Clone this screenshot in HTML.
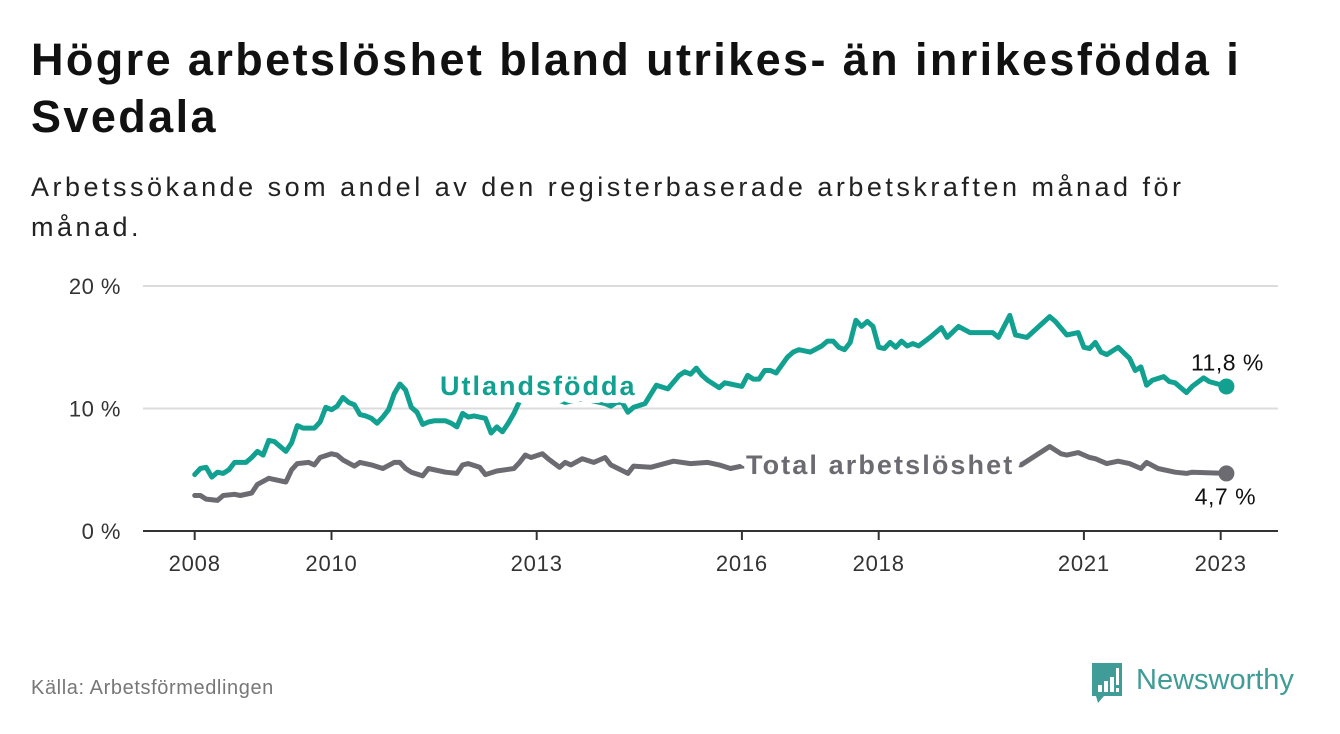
<!DOCTYPE html>
<html><head><meta charset="utf-8"><style>
body{margin:0;width:1340px;height:734px;background:#fff;font-family:"Liberation Sans","DejaVu Sans",sans-serif;overflow:hidden;position:relative}
.t{position:absolute;left:31px;top:31px;font-size:45px;letter-spacing:2.4px;font-weight:bold;color:#111;line-height:57px;width:1300px;white-space:nowrap}
.s{position:absolute;left:31px;top:167px;font-size:27px;letter-spacing:3.5px;color:#222;line-height:40px;width:1300px;white-space:nowrap}
.src{position:absolute;left:31px;top:677px;font-size:20px;letter-spacing:0.6px;color:#777}
</style></head><body>
<div class="t">Högre arbetslöshet bland utrikes- än inrikesfödda i<br>Svedala</div>
<div class="s">Arbetssökande som andel av den registerbaserade arbetskraften månad för<br>månad.</div>
<div class="src">Källa: Arbetsförmedlingen</div>
<svg style="position:absolute;left:1088px;top:660px" width="230" height="48">
<path d="M4 3 H34 V36 H16 L10 43 L8 36 H4 Z" fill="#3f9c96"/>
<rect x="10" y="25" width="4" height="7" fill="#fff"/><rect x="16" y="21" width="4" height="11" fill="#fff"/><rect x="22" y="17" width="4" height="15" fill="#fff"/><rect x="28" y="8" width="3" height="17" fill="#fff"/><rect x="28" y="28" width="3" height="4" fill="#fff"/>
<text x="48" y="29" font-size="29" font-family="Liberation Sans, sans-serif" fill="#3f9c96">Newsworthy</text>
</svg>
<svg id="chart" width="1340" height="734" style="position:absolute;left:0;top:0"></svg>
<script>
const yTicks=[0,10,20];
const yTickLabels=["0 %","10 %","20 %"];
const xTickYears=[2008,2010,2013,2016,2018,2021,2023];
const foreignMonths=[0,1,2,3,4,5,6,7,9,10,11,12,13,14,16,17,18,19,21,22,23,24,25,26,27,28,29,30,31,32,33,34,35,36,37,38,39,40,41,42,44,45,46,47,48,49,51,52,53,54,55,56,57,60,63,65,68,70,72,73,74,75,76,77,79,81,83,85,86,87,88,89,90,92,93,94,96,97,98,99,100,101,102,104,105,106,108,110,111,112,113,114,115,116,117,118,119,120,121,122,123,124,125,126,127,129,131,132,134,136,140,141,143,144,146,150,151,153,155,156,157,158,159,160,162,164,165,166,167,168,170,171,172,174,175,177,178,181];
const foreignValues=[4.6,5.1,5.2,4.4,4.8,4.7,5.0,5.6,5.6,6.0,6.5,6.2,7.4,7.3,6.5,7.2,8.6,8.4,8.4,8.9,10.1,9.9,10.2,10.9,10.5,10.3,9.5,9.4,9.2,8.8,9.3,9.9,11.2,12.0,11.5,10.1,9.7,8.7,8.9,9.0,9.0,8.8,8.5,9.6,9.3,9.4,9.2,8.0,8.5,8.1,8.8,9.6,10.6,10.9,10.8,10.5,10.8,10.6,10.4,10.2,10.5,10.5,9.7,10.1,10.4,11.9,11.6,12.7,13.0,12.8,13.3,12.7,12.3,11.7,12.1,12.0,11.8,12.7,12.4,12.4,13.1,13.1,12.9,14.2,14.6,14.8,14.6,15.1,15.5,15.5,15.0,14.8,15.4,17.2,16.7,17.1,16.7,15.0,14.9,15.4,15.0,15.5,15.1,15.3,15.1,15.8,16.6,15.8,16.7,16.2,16.2,15.8,17.6,16.0,15.8,17.5,17.1,16.0,16.2,15.0,14.9,15.4,14.6,14.4,15.0,14.1,13.1,13.4,11.9,12.3,12.6,12.2,12.1,11.3,11.8,12.5,12.2,11.8];
const totalMonths=[0,1,2,4,5,7,8,10,11,13,14,16,17,18,20,21,22,24,25,26,28,29,31,33,35,36,37,38,40,41,44,46,47,48,50,51,53,56,57,58,59,61,62,64,65,66,68,70,72,73,76,77,80,84,87,90,92,94,96,100,110,120,130,140,145,150,152,153,155,157,158,160,162,164,166,167,169,172,174,175,181];
const totalValues=[2.9,2.9,2.6,2.5,2.9,3.0,2.9,3.1,3.8,4.3,4.2,4.0,5.0,5.5,5.6,5.4,6.0,6.3,6.2,5.8,5.3,5.6,5.4,5.1,5.6,5.6,5.1,4.8,4.5,5.1,4.8,4.7,5.4,5.5,5.2,4.6,4.9,5.1,5.6,6.2,6.0,6.3,5.9,5.2,5.6,5.4,5.9,5.6,6.0,5.4,4.7,5.3,5.2,5.7,5.5,5.6,5.4,5.1,5.3,5.3,5.2,5.4,5.4,5.5,5.4,6.9,6.3,6.2,6.4,6.0,5.9,5.5,5.7,5.5,5.1,5.6,5.1,4.8,4.7,4.8,4.7];
const foreignLast="11,8 %", totalLast="4,7 %";

const svg=document.getElementById('chart');const NS='http://www.w3.org/2000/svg';
const X0=194.7,PXM=5.7,Y0=531,PXV=12.25;
const xM=m=>X0+m*PXM, xY=y=>X0+(y-2008)*12*PXM, yV=v=>Y0-v*PXV;
function mk(tag,attrs,parent){const e=document.createElementNS(NS,tag);for(const k in attrs)e.setAttribute(k,attrs[k]);(parent||svg).appendChild(e);return e;}
yTicks.forEach((t,i)=>{
 if(t>0){const g=mk('line',{x1:143,x2:1278,y1:yV(t),y2:yV(t),stroke:'#dcdcdc','stroke-width':2});
 
 }
 const l=mk('text',{x:121,y:yV(t)+8,'text-anchor':'end','font-size':22,fill:'#333','letter-spacing':0.5});l.textContent=yTickLabels[i];
 
 
});
const ax=mk('line',{x1:143,x2:1278,y1:Y0,y2:Y0,stroke:'#333','stroke-width':2});


xTickYears.forEach(y=>{
 const t=mk('line',{x1:xY(y),x2:xY(y),y1:Y0,y2:Y0+9,stroke:'#333','stroke-width':2});
 
 
 const l=mk('text',{x:xY(y),y:Y0+40,'text-anchor':'middle','font-size':22,fill:'#333','letter-spacing':0.8});l.textContent=y;
 
 
});
function line(ms,vs,color,name){
 const d=ms.map((m,i)=>(i?'L':'M')+xM(m).toFixed(1)+' '+yV(vs[i]).toFixed(1)).join(' ');
 const p=mk('path',{d:d,fill:'none',stroke:color,'stroke-width':5,'stroke-linejoin':'round','stroke-linecap':'round'});
 
 
 const c=mk('circle',{cx:xM(ms[ms.length-1]),cy:yV(vs[vs.length-1]),r:8,fill:color});
 
 
}
line(totalMonths,totalValues,'#6c6b72','total-line');
line(foreignMonths,foreignValues,'#12a091','foreign-born-line');
function lab(txt,x,y,color,size,bold,anchor,ls,name){
 const t=mk('text',{x:x,y:y,'font-size':size,fill:color,'font-weight':bold?'bold':'normal','text-anchor':anchor||'start','letter-spacing':ls,stroke:'#fff','stroke-width':bold?16:6,'paint-order':'stroke','stroke-linejoin':'round'});
 t.textContent=txt;
 
 
}
lab('Utlandsfödda',440,395,'#12a091',27,true,'start',2,'foreign-born-label');
lab('Total arbetslöshet',746,474,'#6c6b72',27,true,'start',2.1,'total-label');
lab(foreignLast,xM(181)+1,yV(foreignValues[foreignValues.length-1])-16,'#111',23,false,'middle',0.5,'foreign-end-value');
lab(totalLast,xM(181)-1,yV(totalValues[totalValues.length-1])+31,'#111',23,false,'middle',0.5,'total-end-value');
</script>
</body></html>
